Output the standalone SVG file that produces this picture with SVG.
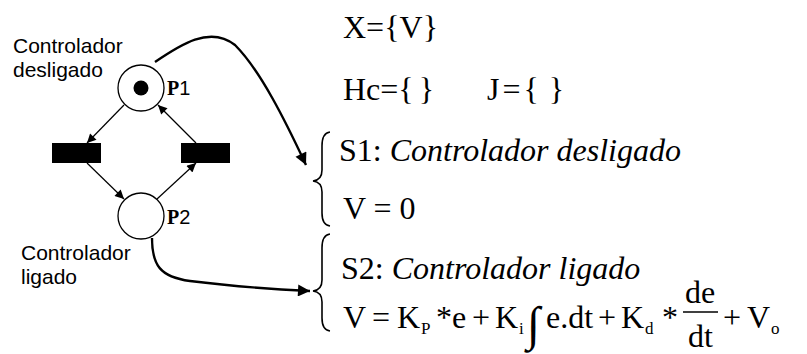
<svg xmlns="http://www.w3.org/2000/svg" width="807" height="354" viewBox="0 0 807 354">
<style>
.sans{font-family:'Liberation Sans',Arial,sans-serif;font-size:21px;fill:#000}
.ser{font-family:'Liberation Serif','Times New Roman',Times,serif;font-size:32px;fill:#000}
.it{font-style:italic}
.sub{font-family:'Liberation Serif','Times New Roman',Times,serif;font-size:17px;fill:#000}
.pb{font-family:'Liberation Serif','Times New Roman',Times,serif;font-weight:bold;font-size:20px}
.pn{font-family:'Liberation Sans',Arial,sans-serif;font-size:20px}
.thin{stroke:#000;stroke-width:1.2;fill:none}
.thick{stroke:#000;stroke-width:2.4;fill:none}
.place{fill:#fff;stroke:#000;stroke-width:1.3}
.brace{stroke:#000;stroke-width:1.6;fill:none}
</style>
<defs>
<marker id="ah" viewBox="0 0 10 10" refX="10" refY="5" markerWidth="11" markerHeight="9" markerUnits="userSpaceOnUse" orient="auto"><path d="M0,0 L10,5 L0,10 z" fill="#000"/></marker>
<marker id="ahb" viewBox="0 0 10 10" refX="10" refY="5" markerWidth="14" markerHeight="12" markerUnits="userSpaceOnUse" orient="auto"><path d="M0,0 L10,5 L0,10 z" fill="#000"/></marker>
</defs>
<g id="connectors">
<line class="thin" x1="124" y1="105" x2="87" y2="143" marker-end="url(#ah)"/>
<line class="thin" x1="196" y1="143" x2="158" y2="105" marker-end="url(#ah)"/>
<line class="thin" x1="87" y1="163" x2="124" y2="199" marker-end="url(#ah)"/>
<line class="thin" x1="157" y1="199" x2="196" y2="163" marker-end="url(#ah)"/>
<path class="thick" d="M155,62 C180,45 210,25 235,45 C260,70 285,120 306,165" marker-end="url(#ahb)"/>
<path class="thick" d="M152,238 C152,265 160,277 190,281 C230,286 270,289 310,291" marker-end="url(#ahb)"/>
</g>
<g id="P1">
<circle class="place" cx="141" cy="88" r="23"/>
<circle cx="141" cy="88" r="7.5" fill="#000"/>
<text x="167" y="95"><tspan class="pb">P</tspan><tspan class="pn">1</tspan></text>
</g>
<g id="P2">
<circle class="place" cx="141" cy="216" r="23"/>
<text x="167" y="224"><tspan class="pb">P</tspan><tspan class="pn">2</tspan></text>
</g>
<g id="T1"><rect x="52" y="143" width="49" height="20" fill="#000"/></g>
<g id="T2"><rect x="181" y="143" width="49" height="20" fill="#000"/></g>
<g id="labels">
<text class="sans" x="13" y="53">Controlador</text>
<text class="sans" x="13" y="77">desligado</text>
<text class="sans" x="21" y="260">Controlador</text>
<text class="sans" x="21" y="284">ligado</text>
</g>
<g id="equations">
<text class="ser" x="343" y="38">X={V}</text>
<text class="ser" x="343" y="100" style="word-spacing:-3px">Hc={ }</text>
<text class="ser" x="487" y="100" style="letter-spacing:3px;word-spacing:-4px">J={ }</text>
<path class="brace" d="M330,132 Q322,133 322,146 L322,170 Q322,180 313,181 Q322,182 322,192 L322,213 Q322,225 330,226"/>
<text class="ser" x="339" y="161">S1: <tspan class="it">Controlador desligado</tspan></text>
<text class="ser" x="343" y="219">V = 0</text>
<path class="brace" d="M330,234 Q322,235 322,248 L322,280 Q322,290 313,291 Q322,292 322,302 L322,318 Q322,330 330,331"/>
<text class="ser" x="341" y="279">S2: <tspan class="it">Controlador ligado</tspan></text>
<text class="ser" x="343" y="328">V</text>
<text class="ser" x="372" y="328">=</text>
<text class="ser" x="397" y="328">K</text>
<text class="sub" x="421" y="334">P</text>
<text class="ser" x="436" y="328">*</text>
<text class="ser" x="452" y="328">e</text>
<text class="ser" x="472" y="328">+</text>
<text class="ser" x="495" y="328">K</text>
<text class="sub" x="519" y="334">i</text>
<text class="ser" x="527" y="340" style="font-size:48px">∫</text>
<text class="ser" x="546" y="328">e.dt</text>
<text class="ser" x="598" y="328">+</text>
<text class="ser" x="621" y="328">K</text>
<text class="sub" x="645" y="334">d</text>
<text class="ser" x="662" y="328">*</text>
<text class="ser" x="685" y="303">de</text>
<line x1="683" y1="312" x2="718" y2="312" stroke="#000" stroke-width="1.3"/>
<text class="ser" x="688" y="347">dt</text>
<text class="ser" x="723" y="328">+</text>
<text class="ser" x="747" y="328">V</text>
<text class="sub" x="771" y="334">o</text>
</g>
</svg>
